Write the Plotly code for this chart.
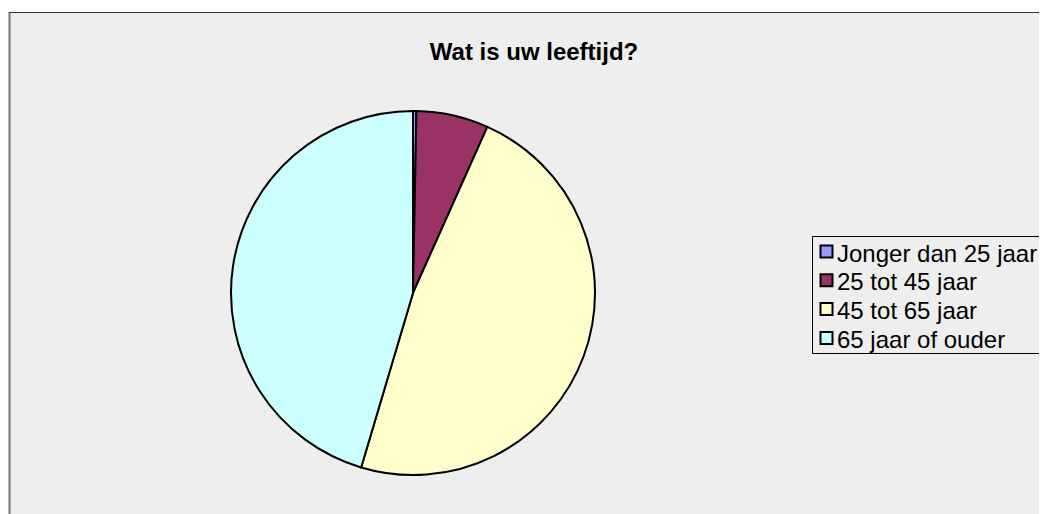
import plotly.graph_objects as go

labels = ["Jonger dan 25 jaar", "25 tot 45 jaar", "45 tot 65 jaar", "65 jaar of ouder"]
values = [0.3, 6.4, 47.9, 45.4]
colors = ["#9999FF", "#993366", "#FFFFCC", "#CCFFFF"]

W, H = 1047, 514
OFF = 8  # page body margin


def px(x):
    return (x - OFF) / W


def py(y):
    return 1 - (y - OFF) / H


cx, cy, r = 413, 293, 182

fig = go.Figure(go.Pie(
    labels=labels, values=values, sort=False, direction="clockwise", rotation=0,
    marker=dict(colors=colors, line=dict(color="black", width=2)),
    textinfo="none", hoverinfo="label+percent", showlegend=False,
    domain=dict(x=[px(cx - r), px(cx + r)], y=[py(cy + r), py(cy - r)]),
))

shapes = [
    dict(type="rect", xref="paper", yref="paper", x0=px(9), x1=1.05, y0=-0.05, y1=py(12),
         fillcolor="#EEEEEE", line=dict(width=0), layer="below"),
    dict(type="line", xref="paper", yref="paper", x0=px(9.5), x1=px(9.5), y0=-0.05, y1=py(12),
         line=dict(color="#777777", width=2), layer="below"),
    dict(type="line", xref="paper", yref="paper", x0=px(9), x1=1.05, y0=py(12.5), y1=py(12.5),
         line=dict(color="#333333", width=1), layer="below"),
    # legend box
    dict(type="rect", xref="paper", yref="paper", x0=px(812.5), x1=1.05, y0=py(353.5), y1=py(236.5),
         fillcolor="#EEEEEE", line=dict(color="black", width=1)),
]
annotations = []
row0, dy = 251.5, 28.8
for i, (lab, col) in enumerate(zip(labels, colors)):
    yc = row0 + i * dy
    shapes.append(dict(type="rect", xref="paper", yref="paper",
                       x0=px(820.5), x1=px(832.5), y0=py(yc + 6), y1=py(yc - 6),
                       fillcolor=col, line=dict(color="black", width=2)))
    annotations.append(dict(text=lab, xref="paper", yref="paper", x=px(835), y=py(yc + 1.5),
                            xanchor="left", yanchor="middle", showarrow=False,
                            font=dict(size=24, color="black")))

fig.update_layout(
    width=W, height=H,
    margin=dict(l=0, r=0, t=0, b=0),
    paper_bgcolor="white",
    showlegend=False,
    font=dict(family="Liberation Sans, Arial, sans-serif", color="black"),
    title=dict(text="<b>Wat is uw leeftijd?</b>", x=px(534), xanchor="center",
               y=py(52), yanchor="middle", font=dict(size=24, color="black")),
    shapes=shapes,
    annotations=annotations,
)

fig.write_html("out.html")
